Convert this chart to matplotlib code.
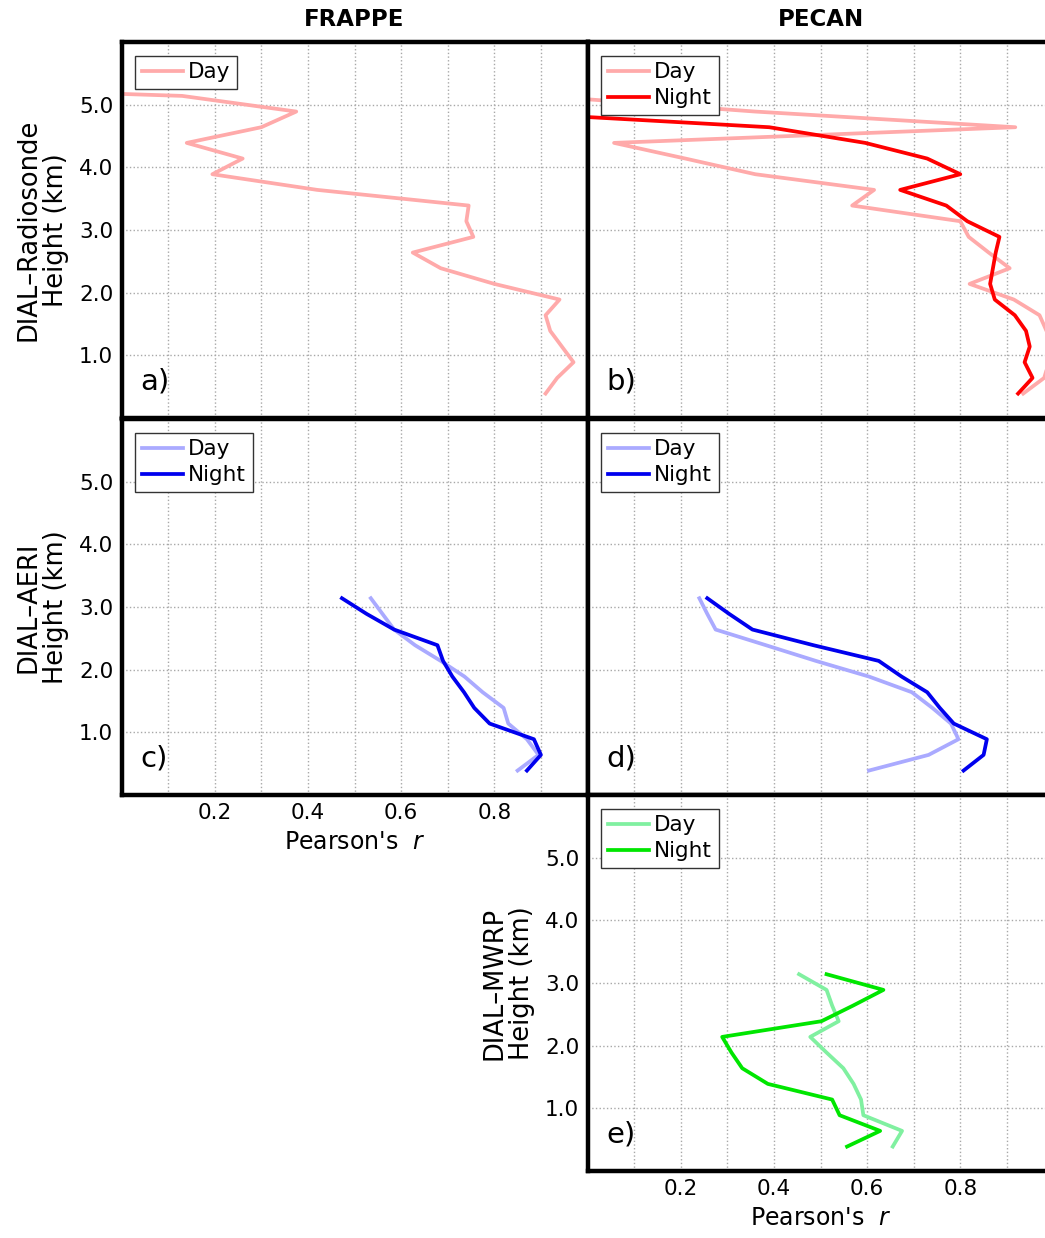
import numpy as np
import matplotlib.pyplot as plt

# heights (km) of the correlation profiles
h_sonde = [0.39, 0.64, 0.89, 1.14, 1.39, 1.64, 1.89, 2.14, 2.39, 2.64, 2.89,
           3.14, 3.39, 3.64, 3.89, 4.14, 4.39, 4.64, 4.89, 5.14, 5.39]
h_aeri = [0.39, 0.64, 0.89, 1.14, 1.39, 1.64, 1.89, 2.14, 2.39, 2.64, 2.89, 3.14]
h_mwrp = [0.39, 0.64, 0.89, 1.14, 1.39, 1.64, 1.89, 2.14, 2.39, 2.64, 2.89, 3.14]

# a) FRAPPE DIAL-Radiosonde
frappe_sonde_day = [0.91, 0.935, 0.97, 0.945, 0.92, 0.91, 0.94, 0.80, 0.685, 0.625, 0.755,
                    0.74, 0.745, 0.42, 0.195, 0.26, 0.14, 0.30, 0.375, 0.13, -0.9]
# b) PECAN DIAL-Radiosonde
pecan_sonde_day = [0.935, 0.98, 0.99, 0.99, 0.985, 0.97, 0.915, 0.82, 0.906, 0.861, 0.818,
                   0.80, 0.568, 0.615, 0.36, 0.21, 0.057, 0.918, 0.36, -0.10]
pecan_sonde_night = [0.924, 0.955, 0.938, 0.949, 0.941, 0.917, 0.874, 0.864, 0.87, 0.876, 0.884,
                     0.815, 0.77, 0.671, 0.80, 0.729, 0.596, 0.39, -0.21]
# c) FRAPPE DIAL-AERI
frappe_aeri_day = [0.85, 0.895, 0.87, 0.83, 0.82, 0.775, 0.736, 0.685, 0.63, 0.585, 0.56, 0.535]
frappe_aeri_night = [0.87, 0.90, 0.885, 0.79, 0.757, 0.735, 0.71, 0.69, 0.678, 0.585, 0.526, 0.473]
# d) PECAN DIAL-AERI
pecan_aeri_day = [0.604, 0.732, 0.796, 0.78, 0.74, 0.696, 0.604, 0.49, 0.383, 0.275, 0.257, 0.24]
pecan_aeri_night = [0.807, 0.85, 0.857, 0.786, 0.756, 0.729, 0.674, 0.625, 0.485, 0.354, 0.304, 0.257]
# e) PECAN DIAL-MWRP
pecan_mwrp_day = [0.655, 0.675, 0.592, 0.587, 0.571, 0.549, 0.513, 0.478, 0.539, 0.525, 0.513, 0.454]
pecan_mwrp_night = [0.557, 0.628, 0.541, 0.525, 0.387, 0.332, 0.309, 0.289, 0.502, 0.57, 0.635, 0.513]

x_ticks = [0.1, 0.2, 0.3, 0.4, 0.5, 0.6, 0.7, 0.8, 0.9]
x_ticklabels = ['', '0.2', '', '0.4', '', '0.6', '', '0.8', '']
y_ticks = [1, 2, 3, 4, 5]
y_ticklabels = ['1.0', '2.0', '3.0', '4.0', '5.0']

plt.rcParams['font.family'] = ['DejaVu Sans']

W, H = 1045, 1238
fig = plt.figure(figsize=(W / 100, H / 100), dpi=100)

colx = [121.5, 587.5]
rowy = [418, 795, 1171]
pw, ph = 466, 376


def make_ax(col, row):
    return fig.add_axes([colx[col] / W, 1 - rowy[row] / H, pw / W, ph / H])


def style(ax, left=False, bottom=False, ylabel=None, tag=''):
    ax.set_xlim(0, 1)
    ax.set_ylim(0, 6)
    ax.set_xticks(x_ticks)
    ax.set_yticks(y_ticks)
    ax.set_xticklabels(x_ticklabels if bottom else [''] * len(x_ticks))
    ax.set_yticklabels(y_ticklabels if left else [''] * len(y_ticks))
    ax.tick_params(length=0, labelsize=15.5, pad=6)
    ax.grid(True, linestyle=':', color='#a8a8a8', linewidth=1.0)
    for s in ax.spines.values():
        s.set_linewidth(3.2)
        s.set_zorder(5)
    if ylabel:
        ax.set_ylabel(ylabel, fontsize=18.5, labelpad=7, linespacing=1.1)
    if bottom:
        ax.set_xlabel("Pearson's  $r$", fontsize=17, labelpad=5)
    ax.text(0.04, 0.096, tag, transform=ax.transAxes, fontsize=21,
            ha='left', va='center')


def legend(ax):
    ax.legend(loc='upper left', fontsize=15.5, frameon=True, fancybox=False,
              edgecolor='#333333', framealpha=1, handlelength=1.9,
              handletextpad=0.25, labelspacing=0.28, borderpad=0.3,
              borderaxespad=0.65).get_frame().set_linewidth(1.0)


lw = 2.7

ax_a = make_ax(0, 0)
ax_a.plot(frappe_sonde_day, h_sonde, color='#ffaaaa', lw=lw, label='Day')
style(ax_a, left=True, ylabel='DIAL\u2013Radiosonde\nHeight (km)', tag='a)')
legend(ax_a)

ax_b = make_ax(1, 0)
ax_b.plot(pecan_sonde_day, h_sonde[:len(pecan_sonde_day)], color='#ffaaaa', lw=lw, label='Day')
ax_b.plot(pecan_sonde_night, h_sonde[:len(pecan_sonde_night)], color='#ff0000', lw=lw, label='Night')
style(ax_b, tag='b)')
legend(ax_b)

ax_c = make_ax(0, 1)
ax_c.plot(frappe_aeri_day, h_aeri, color='#aaaaff', lw=lw, label='Day')
ax_c.plot(frappe_aeri_night, h_aeri, color='#0000ee', lw=lw, label='Night')
style(ax_c, left=True, bottom=True, ylabel='DIAL\u2013AERI\nHeight (km)', tag='c)')
legend(ax_c)

ax_d = make_ax(1, 1)
ax_d.plot(pecan_aeri_day, h_aeri, color='#aaaaff', lw=lw, label='Day')
ax_d.plot(pecan_aeri_night, h_aeri, color='#0000ee', lw=lw, label='Night')
style(ax_d, tag='d)')
legend(ax_d)

ax_e = make_ax(1, 2)
ax_e.plot(pecan_mwrp_day, h_mwrp, color='#80f0a0', lw=lw, label='Day')
ax_e.plot(pecan_mwrp_night, h_mwrp, color='#00e600', lw=lw, label='Night')
style(ax_e, left=True, bottom=True, ylabel='DIAL\u2013MWRP\nHeight (km)', tag='e)')
legend(ax_e)

fig.text((colx[0] + pw / 2) / W, 1 - 20 / H, 'FRAPPE', ha='center', va='center',
         fontsize=16.5, fontweight='bold')
fig.text((colx[1] + pw / 2) / W, 1 - 20 / H, 'PECAN', ha='center', va='center',
         fontsize=16.5, fontweight='bold')

fig.savefig('out.png', dpi=100)
